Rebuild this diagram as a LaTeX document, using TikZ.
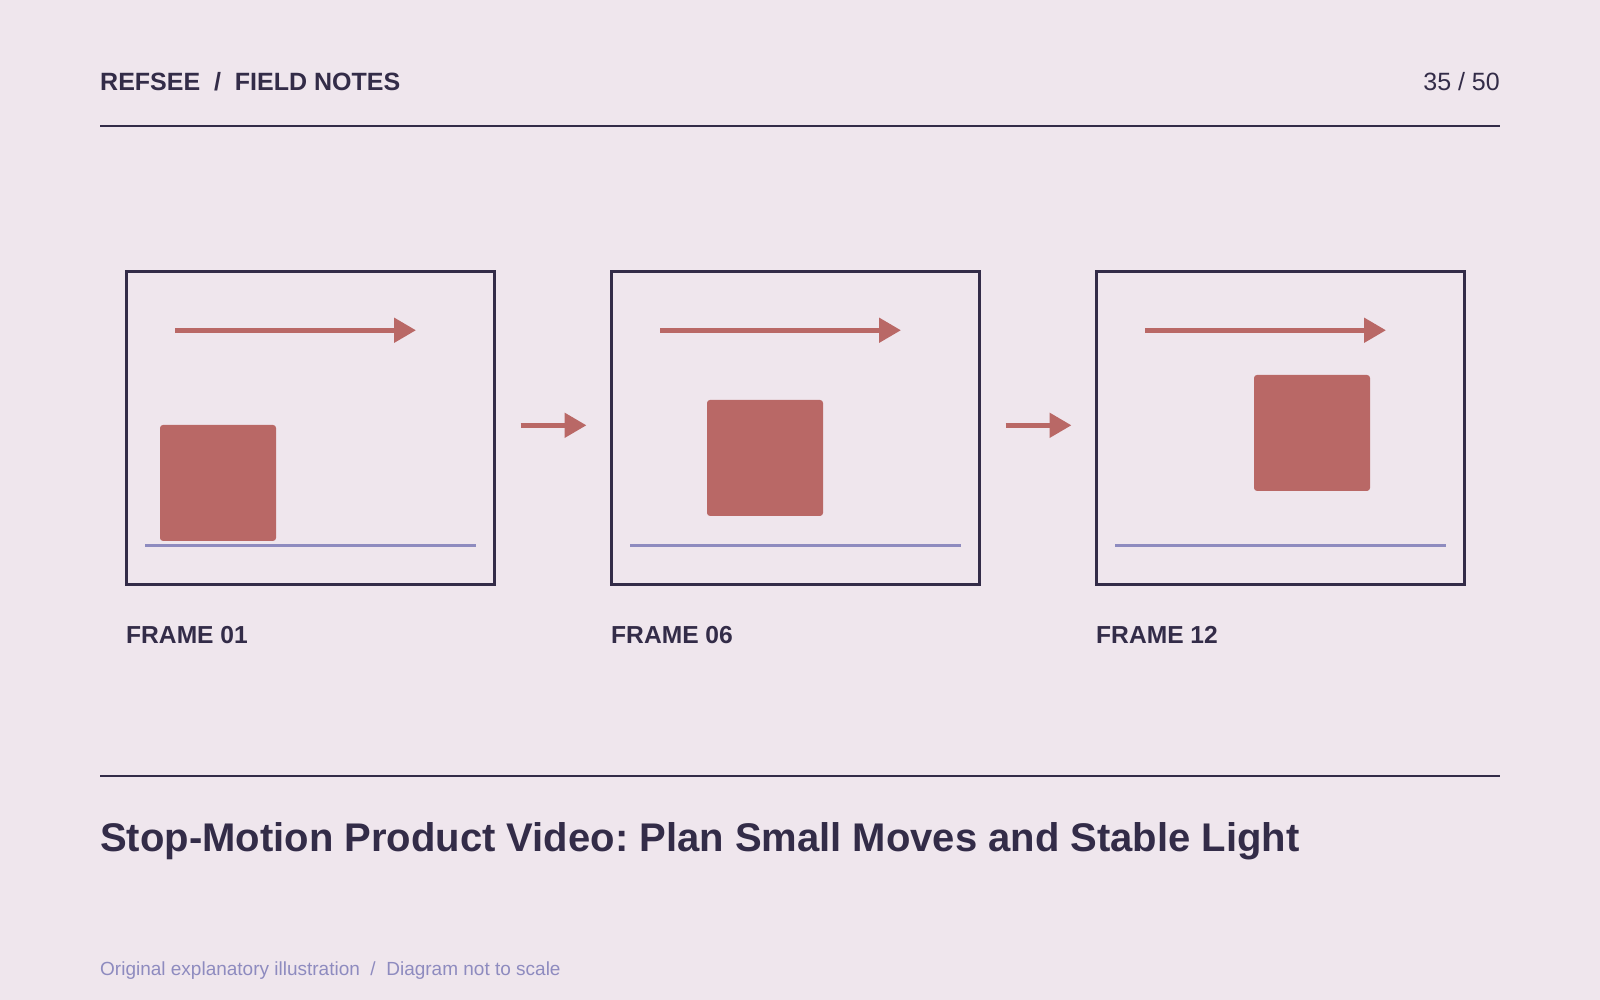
\documentclass[tikz,border=0pt]{standalone}
\usepackage{fontspec}
\setmainfont{Liberation Sans}
\usetikzlibrary{arrows.meta,positioning}
\definecolor{paper}{HTML}{EFE6ED}
\definecolor{ink}{HTML}{332C48}
\definecolor{clay}{HTML}{B96866}
\definecolor{lilac}{HTML}{8E8BBF}
\frenchspacing

\begin{document}
\begin{tikzpicture}[x=1pt,y=-1pt,
  frame/.style={draw=ink,line width=3pt,minimum width=368pt,minimum height=312.5pt,inner sep=0pt,outer sep=0pt},
  move/.style={draw=clay,line width=5pt,-{Triangle[length=22pt,width=24pt]}},
  prop/.style={fill=clay,rounded corners=3pt},
  ground/.style={draw=lilac,line width=3pt},
  rule/.style={draw=ink,line width=2pt},
  caption/.style={anchor=base west,inner sep=0pt,text=ink,font=\bfseries\fontsize{25}{28}\selectfont}]
	% page and margins
	\fill[paper] (0,0) rectangle (1600,1000);
	\useasboundingbox (0,0) rectangle (1600,1000);

	% header
	\node[caption] (brand) at (100,91) {REFSEE~~/~~FIELD NOTES};
	\node[anchor=base east,inner sep=0pt,text=ink,font=\fontsize{25}{28}\selectfont] (page) at (1500,91) {35 / 50};
	\draw[rule] (100,126) -- (1500,126);

	% the three frames
	\foreach \k/\tag/\px/\py in {1/01/33.5/153.4,2/06/95.5/128.4,3/12/157.5/103.4}{
		\node[frame] (f\k) at ({310.5+485*(\k-1)},427.8) {};
		\begin{scope}[shift={(f\k.north west)}]
			\draw[move] (48.5,58.7) -- (289.5,58.7);
			\fill[prop] (\px,\py) rectangle ++(116,116);
			\draw[ground] (18.5,273.7) -- (349.5,273.7);
		\end{scope}
		\node[caption,font=\bfseries\fontsize{24.6}{28}\selectfont] (lab\k) at ([xshift=-0.5pt]f\k.west |- 0,643) {FRAME \tag};
	}

	% steps between frames
	\draw[move,shorten <=26pt,shorten >=25pt] ([yshift=2.5pt]f1.east) -- ([yshift=2.5pt]f2.west);
	\draw[move,shorten <=26pt,shorten >=25pt] ([yshift=2.5pt]f2.east) -- ([yshift=2.5pt]f3.west);

	% title and footer
	\draw[rule] (100,775.7) -- (1500,775.7);
	\node[caption,font=\bfseries\fontsize{40}{46}\selectfont] (title) at (100,851.5) {Stop-Motion Product Video: Plan Small Moves and Stable Light};
	\node[anchor=base west,inner sep=0pt,text=lilac,font=\fontsize{19}{23}\selectfont] (note) at (100,975) {Original explanatory illustration~~/~~Diagram not to scale};
\end{tikzpicture}
\end{document}
